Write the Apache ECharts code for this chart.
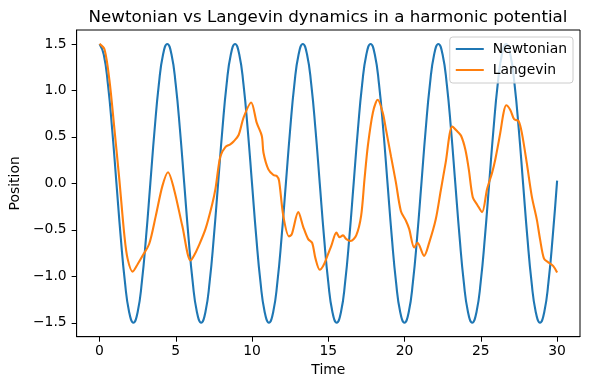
<!DOCTYPE html>
<html>
<head>
<meta charset="utf-8">
<script src="https://cdn.jsdelivr.net/npm/echarts@6/dist/echarts.min.js"></script>
<style>
html,body{margin:0;padding:0;background:#fff;}
#chart{width:590px;height:390px;}
</style>
</head>
<body>
<div id="chart"></div>
<script>
// ---- data ----
var titleText = "Newtonian vs Langevin dynamics in a harmonic potential";
var seriesNames = ["Newtonian", "Langevin"];
var xTicks = [0, 5, 10, 15, 20, 25, 30];
var yTicks = [-1.5, -1.0, -0.5, 0.0, 0.5, 1.0, 1.5];

var newtonTime = [0, 0.278, 0.555, 0.833, 1.111, 1.388, 1.666, 1.944, 2.221, 2.499,
  2.777, 3.054, 3.332, 3.610, 3.888, 4.165, 4.443, 4.721, 4.998, 5.276,
  5.554, 5.831, 6.109, 6.387, 6.664, 6.942, 7.220, 7.497, 7.775, 8.053,
  8.330, 8.608, 8.886, 9.163, 9.441, 9.719, 9.997, 10.274, 10.552, 10.830,
  11.107, 11.385, 11.663, 11.940, 12.218, 12.496, 12.773, 13.051, 13.329, 13.606,
  13.884, 14.162, 14.439, 14.717, 14.995, 15.272, 15.550, 15.828, 16.105, 16.383,
  16.661, 16.938, 17.216, 17.494, 17.771, 18.049, 18.327, 18.605, 18.882, 19.160,
  19.438, 19.715, 19.993, 20.271, 20.548, 20.826, 21.104, 21.381, 21.659, 21.937,
  22.214, 22.492, 22.770, 23.047, 23.325, 23.603, 23.880, 24.158, 24.436, 24.713,
  24.991, 25.269, 25.546, 25.824, 26.102, 26.379, 26.657, 26.935, 27.212, 27.490,
  27.768, 28.045, 28.323, 28.601, 28.878, 29.156, 29.434, 29.711, 30.0];
var newtonPos = [1.5, 1.386, 1.061, 0.574, 0, -0.574, -1.061, -1.386, -1.5, -1.386,
  -1.061, -0.574, 0, 0.574, 1.061, 1.386, 1.5, 1.386, 1.061, 0.574,
  0, -0.574, -1.061, -1.386, -1.5, -1.386, -1.061, -0.574, 0, 0.574,
  1.061, 1.386, 1.5, 1.386, 1.061, 0.574, 0, -0.574, -1.061, -1.386,
  -1.5, -1.386, -1.061, -0.574, 0, 0.574, 1.061, 1.386, 1.5, 1.386,
  1.061, 0.574, 0, -0.574, -1.061, -1.386, -1.5, -1.386, -1.061, -0.574,
  0, 0.574, 1.061, 1.386, 1.5, 1.386, 1.061, 0.574, 0, -0.574,
  -1.061, -1.386, -1.5, -1.386, -1.061, -0.574, 0, 0.574, 1.061, 1.386,
  1.5, 1.386, 1.061, 0.574, 0, -0.574, -1.061, -1.386, -1.5, -1.386,
  -1.061, -0.574, 0, 0.574, 1.061, 1.386, 1.5, 1.386, 1.061, 0.574,
  0, -0.574, -1.061, -1.386, -1.5, -1.386, -1.061, -0.574, 0.03];

var langevinTime = [0, 0.33, 0.65, 0.98, 1.30, 1.63, 1.84, 2.17, 2.5, 2.82,
  3.26, 3.69, 4.12, 4.49, 4.88, 5.43, 5.97, 6.19, 6.51, 6.95,
  7.38, 7.6, 7.92, 8.25, 8.57, 8.79, 9.12, 9.45, 9.94, 10.31,
  10.64, 10.75, 11.07, 11.40, 11.62, 11.77, 12.05, 12.42, 12.6, 13.03,
  13.36, 13.68, 13.94, 14.16, 14.44, 14.66, 14.87, 15.2, 15.53, 15.74,
  15.96, 16.18, 16.46, 16.83, 17.15, 17.37, 17.59, 17.92, 18.24, 18.57,
  18.78, 19.11, 19.43, 19.76, 20.08, 20.3, 20.63, 20.85, 21.28, 21.61,
  22.04, 22.37, 22.69, 23.13, 23.45, 23.71, 23.99, 24.21, 24.47, 24.76,
  25.08, 25.41, 25.73, 25.95, 26.27, 26.49, 26.66, 26.93, 27.18, 27.47,
  27.69, 28.01, 28.34, 28.67, 28.88, 29.14, 29.42, 29.75, 30.0];
var langevinPos = [1.50, 1.44, 1.11, 0.58, 0.04, -0.56, -0.81, -0.95, -0.87, -0.78,
  -0.65, -0.35, -0.03, 0.12, -0.06, -0.46, -0.83, -0.78, -0.67, -0.49,
  -0.23, -0.06, 0.29, 0.39, 0.42, 0.45, 0.52, 0.71, 0.87, 0.65,
  0.51, 0.33, 0.15, 0.09, 0.08, 0.03, -0.35, -0.57, -0.55, -0.31,
  -0.47, -0.60, -0.64, -0.81, -0.93, -0.89, -0.81, -0.67, -0.53, -0.58,
  -0.56, -0.60, -0.62, -0.56, -0.35, 0.04, 0.40, 0.76, 0.90, 0.76,
  0.58, 0.29, 0.01, -0.30, -0.40, -0.49, -0.69, -0.64, -0.78, -0.64,
  -0.39, -0.08, 0.22, 0.61, 0.56, 0.51, 0.36, 0.15, -0.15, -0.23,
  -0.31, -0.06, 0.11, 0.26, 0.54, 0.76, 0.84, 0.79, 0.69, 0.67,
  0.54, 0.22, -0.14, -0.39, -0.60, -0.81, -0.85, -0.89, -0.96];

function zip(a, b) { return a.map(function (v, i) { return [v, b[i]]; }); }

var FONT = "DejaVu Sans";
var chart = echarts.init(document.getElementById('chart'), null, {renderer: 'canvas'});
chart.setOption({
  animation: false,
  backgroundColor: '#ffffff',
  title: {
    text: titleText,
    left: 323, top: 4, textAlign: 'center',
    textStyle: {fontFamily: FONT, fontSize: 16.7, fontWeight: 'normal', color: '#000'}
  },
  legend: {
    data: seriesNames,
    orient: 'vertical',
    right: 17, top: 37,
    icon: 'rect', itemWidth: 28, itemHeight: 2, itemGap: 7,
    padding: [5, 6, 6, 6],
    backgroundColor: 'rgba(255,255,255,0.8)',
    borderColor: '#cccccc', borderWidth: 1, borderRadius: 3,
    textStyle: {fontFamily: FONT, fontSize: 13.9, color: '#000', padding: [0,0,0,4]}
  },
  grid: {
    left: 73.5, right: 10, top: 30, bottom: 53.3,
    show: true, borderColor: '#000', borderWidth: 1, containLabel: false
  },
  xAxis: {
    type: 'value', min: -1.5, max: 31.5,
    name: 'Time', nameLocation: 'middle', nameGap: 27,
    nameTextStyle: {fontFamily: FONT, fontSize: 13.9, color: '#000'},
    axisLine: {show: true, onZero: false, lineStyle: {color: '#000', width: 1}},
    axisTick: {show: true, length: 5, lineStyle: {color: '#000'}, customValues: xTicks},
    axisLabel: {fontFamily: FONT, fontSize: 13.9, color: '#000', margin: 8, customValues: xTicks,
      formatter: function (v) { return String(v); }},
    splitLine: {show: false}
  },
  yAxis: {
    type: 'value', min: -1.65, max: 1.65,
    name: 'Position', nameLocation: 'middle', nameGap: 46, nameRotate: 90,
    nameTextStyle: {fontFamily: FONT, fontSize: 13.9, color: '#000'},
    axisLine: {show: true, onZero: false, lineStyle: {color: '#000', width: 1}},
    axisTick: {show: true, length: 5, lineStyle: {color: '#000'}, customValues: yTicks},
    axisLabel: {fontFamily: FONT, fontSize: 13.9, color: '#000', margin: 10, customValues: yTicks,
      formatter: function (v) { return (v < 0 ? '\u2212' : '') + Math.abs(v).toFixed(1); }},
    splitLine: {show: false}
  },
  series: [
    {name: seriesNames[0], type: 'line', data: zip(newtonTime, newtonPos), symbol: 'none',
      smooth: 0.5, color: '#1f77b4', lineStyle: {width: 2.1, color: '#1f77b4'}, z: 2},
    {name: seriesNames[1], type: 'line', data: zip(langevinTime, langevinPos), symbol: 'none',
      smooth: 0.3, color: '#ff7f0e', lineStyle: {width: 2.1, color: '#ff7f0e'}, z: 3}
  ]
});
</script>
</body>
</html>
